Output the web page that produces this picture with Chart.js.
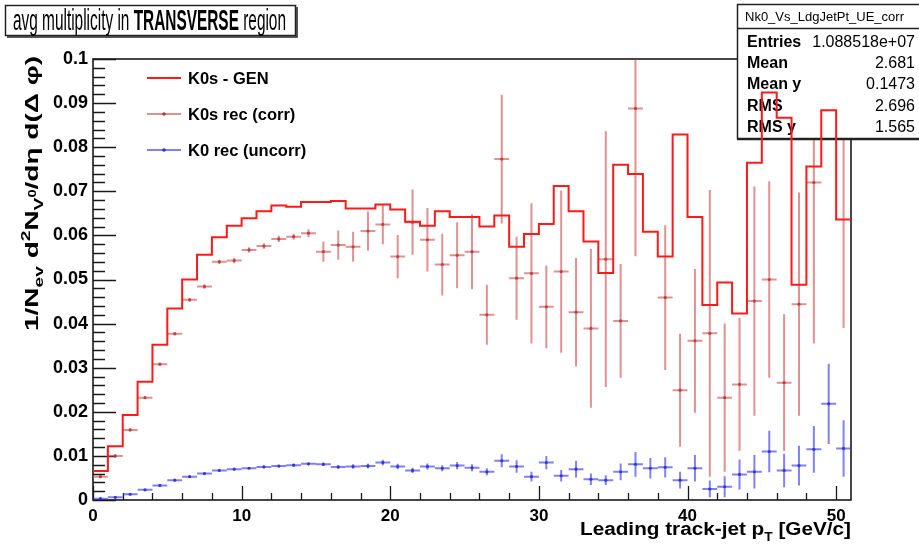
<!DOCTYPE html>
<html><head><meta charset="utf-8">
<script src="https://cdn.jsdelivr.net/npm/chart.js@4.4.1/dist/chart.umd.min.js"></script>
<style>html,body{margin:0;padding:0;background:#fff;overflow:hidden}#wrap{width:919px;height:549px;position:relative}</style>
</head><body><div id="wrap"><canvas id="c"></canvas></div>
<script>
// ---- data ----
const binLow = [0,1,2,3,4,5,6,7,8,9,10,11,12,13,14,15,16,17,18,19,20,21,22,23,24,25,26,27,28,29,30,31,32,33,34,35,36,37,38,39,40,41,42,43,44,45,46,47,48,49,50];
const binWidth = 1;
const genValues = [0.0066,0.0122,0.0193,0.0268,0.0352,0.0434,0.0500,0.0556,0.0596,0.0622,0.0639,0.0655,0.0668,0.0665,0.0676,0.0676,0.0678,0.0661,0.0661,0.0670,0.0659,0.0631,0.0622,0.0655,0.0642,0.0642,0.0620,0.0645,0.0574,0.0603,0.0626,0.0712,0.0655,0.0586,0.0515,0.0760,0.0739,0.0608,0.0552,0.0829,0.0642,0.0442,0.0493,0.0423,0.0765,0.0924,0.0867,0.0488,0.0756,0.0884,0.0636];
const recCorrValues = [0.0053,0.0100,0.0159,0.0232,0.0308,0.0377,0.0454,0.0484,0.0540,0.0543,0.0567,0.0576,0.0592,0.0597,0.0605,0.0563,0.0578,0.0574,0.0610,0.0625,0.0552,0.0630,0.0590,0.0534,0.0555,0.0563,0.0420,0.0773,0.0503,0.0514,0.0438,0.0518,0.0426,0.0389,0.0546,0.0406,0.0888,null,0.0459,0.0249,0.0361,0.0378,0.0232,0.0262,0.0451,0.0500,0.0266,0.0444,0.0720,null,0.0880];
const recCorrErrors = [0.0003,0.0003,0.0003,0.0003,0.0003,0.0004,0.0004,0.0005,0.0005,0.0006,0.0006,0.0006,0.0007,0.0007,0.0009,0.0023,0.0033,0.0034,0.0044,0.0045,0.0049,0.0074,0.0072,0.0070,0.0075,0.0085,0.0068,0.0146,0.0094,0.0159,0.0094,0.0184,0.0123,0.0180,0.0290,0.0129,0.0335,null,0.0164,0.0128,0.0163,0.0325,0.0168,0.0151,0.0260,0.0223,0.0155,0.0253,0.0365,null,0.0490];
const recUncorrValues = [0.0003,0.0006,0.0013,0.0023,0.0033,0.0045,0.0053,0.0060,0.0067,0.0070,0.0072,0.0075,0.0077,0.0079,0.0082,0.0081,0.0075,0.0076,0.0077,0.0085,0.0076,0.0067,0.0076,0.0072,0.0078,0.0073,0.0064,0.0089,0.0076,0.0053,0.0085,0.0055,0.0070,0.0047,0.0045,0.0064,0.0081,0.0072,0.0074,0.0045,0.0072,0.0025,0.0030,0.0058,0.0064,0.0110,0.0067,0.0078,0.0115,0.0218,0.0117];
const recUncorrErrors = [0.0001,0.0001,0.0001,0.0001,0.0001,0.0002,0.0002,0.0002,0.0002,0.0002,0.0002,0.0003,0.0003,0.0003,0.0003,0.0004,0.0004,0.0005,0.0005,0.0006,0.0006,0.0006,0.0007,0.0007,0.0008,0.0008,0.0008,0.0015,0.0014,0.0011,0.0015,0.0013,0.0019,0.0013,0.0011,0.0019,0.0028,0.0023,0.0023,0.0019,0.0030,0.0019,0.0024,0.0034,0.0038,0.0047,0.0038,0.0045,0.0053,0.0091,0.0064];
const xTickValues = [0,10,20,30,40,50];
const xTickLabels = ['0','10','20','30','40','50'];
const yTickValues = [0,0.01,0.02,0.03,0.04,0.05,0.06,0.07,0.08,0.09,0.1];
const yTickLabels = ['0','0.01','0.02','0.03','0.04','0.05','0.06','0.07','0.08','0.09','0.1'];
const legendLabels = ['K0s - GEN','K0s rec (corr)','K0 rec (uncorr)'];
const statsName = 'Nk0_Vs_LdgJetPt_UE_corr';
const statsLabels = ['Entries','Mean','Mean y','RMS','RMS y'];
const statsValues = ['1.088518e+07','2.681','0.1473','2.696','1.565'];
const titleParts = [['avg multiplicity in ',''],['TRANSVERSE','bold '],[' region','']];
const xTitle = 'Leading track-jet p';
const xTitleSub = 'T';
const xTitleEnd = ' [GeV/c]';

// ---- styles ----
const FONT = '"Liberation Sans", Arial, sans-serif';
const GEN_COLOR = '#ff1a1a';
const CORR_COLOR = 'rgba(200,55,55,0.55)';
const CORR_MARK = 'rgba(170,40,40,0.85)';
const UNC_COLOR = 'rgba(45,45,235,0.6)';
const UNC_MARK = 'rgba(40,40,200,0.9)';

const genPoints = binLow.map((x,i)=>({x:x, y:genValues[i]}));
genPoints.push({x: binLow[binLow.length-1]+binWidth, y: genValues[genValues.length-1]});
const corrPoints = binLow.map((x,i)=>({x:x+binWidth/2, y:recCorrValues[i]}));
const uncPoints = binLow.map((x,i)=>({x:x+binWidth/2, y:recUncorrValues[i]}));

const rootPlugin = {
  id:'rootStyle',
  beforeDatasetsDraw(chart){
    const {ctx, chartArea:a, scales:{x,y}} = chart;
    ctx.save();
    ctx.strokeStyle='#1a1a1a';
    ctx.lineWidth=1.6;
    ctx.strokeRect(a.left, a.top, a.right-a.left, a.bottom-a.top);
    ctx.lineWidth=1.3;
    ctx.beginPath();
    for(let k=0;k<=50;k++){
      const p=Math.round(y.getPixelForValue(k*0.002))+0.5;
      const len = (k%5===0)?23:12;
      ctx.moveTo(a.left,p); ctx.lineTo(a.left+len,p);
    }
    for(let k=0;k<=25;k++){
      const p=Math.round(x.getPixelForValue(k*2))+0.5;
      const len=(k%5===0)?14:7;
      ctx.moveTo(p,a.bottom); ctx.lineTo(p,a.bottom-len);
    }
    ctx.stroke();
    ctx.restore();
  },
  beforeDatasetDraw(chart,args){
    if(args.index!==0) return;
    const ctx=chart.ctx;
    ctx.save();
    ctx.fillStyle='#fff';
    ctx.fillRect(737,4,190,134);
    ctx.strokeStyle='#222'; ctx.lineWidth=1.5;
    ctx.strokeRect(737.5,4.5,190,134);
    ctx.beginPath(); ctx.moveTo(737,139.5); ctx.lineTo(919,139.5); ctx.stroke();
    ctx.beginPath(); ctx.moveTo(737,28.5); ctx.lineTo(919,28.5); ctx.stroke();
    ctx.fillStyle='#000';
    ctx.font='13px '+FONT; ctx.textBaseline='alphabetic'; ctx.textAlign='left';
    ctx.fillText(statsName,745,21);
    const base=[47,68,89,111,132];
    statsLabels.forEach((l,i)=>{
      ctx.font='bold 16px '+FONT; ctx.textAlign='left';
      ctx.fillText(l,747,base[i]);
      ctx.font='16px '+FONT; ctx.textAlign='right';
      ctx.fillText(statsValues[i],915,base[i]);
    });
    ctx.restore();
  },
  afterDatasetDraw(chart,args){
    const ds=chart.data.datasets[args.index];
    if(!ds.errs) return;
    const {ctx, chartArea:a, scales:{x,y}} = chart;
    ctx.save();
    ctx.beginPath(); ctx.rect(a.left,a.top,a.right-a.left,a.bottom-a.top); ctx.clip();
    ctx.strokeStyle=ds.errColor; ctx.lineWidth=2;
    ds.data.forEach((pt,i)=>{
      if(pt.y===null||ds.errs[i]===null) return;
      const px=x.getPixelForValue(pt.x), py=y.getPixelForValue(pt.y);
      const x0=x.getPixelForValue(pt.x-binWidth/2), x1=x.getPixelForValue(pt.x+binWidth/2);
      const y0=y.getPixelForValue(pt.y-ds.errs[i]), y1=y.getPixelForValue(pt.y+ds.errs[i]);
      ctx.beginPath();
      ctx.moveTo(x0,py); ctx.lineTo(x1,py);
      ctx.moveTo(px,y0); ctx.lineTo(px,y1);
      ctx.stroke();
    });
    ctx.restore();
  },
  afterDraw(chart){
    const ctx=chart.ctx;
    ctx.save();
    // title box
    ctx.strokeStyle='#222'; ctx.lineWidth=1.5;
    ctx.fillStyle='#fff';
    ctx.fillRect(5,5,291,31);
    ctx.strokeRect(5.5,5.5,290,30);
    ctx.beginPath(); ctx.moveTo(7,37); ctx.lineTo(297,37); ctx.lineTo(297,7); ctx.stroke();
    ctx.fillStyle='#000'; ctx.textBaseline='alphabetic'; ctx.textAlign='left';
    let total=0;
    titleParts.forEach(p=>{ctx.font=p[1]+'29px '+FONT; total+=ctx.measureText(p[0]).width;});
    const sc=273/total;
    ctx.save(); ctx.translate(13,30); ctx.scale(sc,1);
    let cx=0;
    titleParts.forEach(p=>{ctx.font=p[1]+'29px '+FONT; ctx.fillText(p[0],cx,0); cx+=ctx.measureText(p[0]).width;});
    ctx.restore();

    // legend
    const ly=[78,114,150];
    ctx.lineWidth=2;
    ctx.strokeStyle=GEN_COLOR; ctx.beginPath(); ctx.moveTo(147,ly[0]); ctx.lineTo(181,ly[0]); ctx.stroke();
    ctx.strokeStyle=CORR_COLOR; ctx.beginPath(); ctx.moveTo(147,ly[1]); ctx.lineTo(181,ly[1]); ctx.stroke();
    ctx.fillStyle=CORR_MARK; ctx.beginPath(); ctx.arc(164,ly[1],1.8,0,Math.PI*2); ctx.fill();
    ctx.strokeStyle=UNC_COLOR; ctx.beginPath(); ctx.moveTo(147,ly[2]); ctx.lineTo(181,ly[2]); ctx.stroke();
    ctx.fillStyle=UNC_MARK; ctx.beginPath(); ctx.arc(164,ly[2],1.8,0,Math.PI*2); ctx.fill();
    ctx.fillStyle='#000'; ctx.font='bold 16.5px '+FONT; ctx.textBaseline='middle';
    legendLabels.forEach((l,i)=>ctx.fillText(l,188,ly[i]+1));

    // x title
    ctx.textBaseline='alphabetic';
    ctx.font='bold 18px '+FONT;
    const w1=ctx.measureText(xTitle).width;
    ctx.font='bold 12px '+FONT;
    const w2=ctx.measureText(xTitleSub).width;
    ctx.font='bold 18px '+FONT;
    const w3=ctx.measureText(xTitleEnd).width;
    const xs=271/(w1+w2+w3);
    ctx.save(); ctx.translate(580,535); ctx.scale(xs,1);
    ctx.fillText(xTitle,0,0);
    ctx.font='bold 12px '+FONT; ctx.fillText(xTitleSub,w1,6);
    ctx.font='bold 18px '+FONT; ctx.fillText(xTitleEnd,w1+w2,0);
    ctx.restore();

    // y title
    const parts=[
      ['1/N',19,0],['ev',13,5],[' d',19,0],['2',13,-8],['N',19,0],['V',13,5],['0',10,-2],['/d',19,0],['η',19,0],[' d(Δ φ)',19,0]
    ];
    let tw=0;
    parts.forEach(p=>{ctx.font='bold '+p[1]+'px '+FONT; tw+=ctx.measureText(p[0]).width;});
    const ys=275/tw;
    ctx.save(); ctx.translate(38,331); ctx.rotate(-Math.PI/2); ctx.scale(ys,1);
    let px=0;
    parts.forEach(p=>{ctx.font='bold '+p[1]+'px '+FONT; ctx.fillText(p[0],px,p[2]); px+=ctx.measureText(p[0]).width;});
    ctx.restore();
    ctx.restore();
  }
};

new Chart(document.getElementById('c'),{
  type:'scatter',
  data:{datasets:[
    {type:'line', label:legendLabels[0], data:genPoints, stepped:'before', borderColor:GEN_COLOR, borderWidth:2, pointRadius:0, fill:false, order:0},
    {type:'scatter', label:legendLabels[1], data:corrPoints, pointRadius:1.6, pointBackgroundColor:CORR_MARK, pointBorderWidth:0, errs:recCorrErrors, errColor:CORR_COLOR, order:2},
    {type:'scatter', label:legendLabels[2], data:uncPoints, pointRadius:1.6, pointBackgroundColor:UNC_MARK, pointBorderWidth:0, errs:recUncorrErrors, errColor:UNC_COLOR, order:1}
  ]},
  options:{
    responsive:true, maintainAspectRatio:false, animation:false, devicePixelRatio:1, events:[],
    layout:{padding:{left:0,top:59,right:68,bottom:0}},
    plugins:{legend:{display:false}, tooltip:{enabled:false}},
    scales:{
      x:{type:'linear', min:0, max:51,
        grid:{display:false, drawTicks:false}, border:{display:false},
        afterBuildTicks:s=>{s.ticks=xTickValues.map(v=>({value:v}));},
        afterFit:s=>{s.height=49;},
        ticks:{padding:6, color:'#000', font:{family:'Liberation Sans', weight:'bold', size:17}, maxRotation:0,
          callback:(v)=>{const i=xTickValues.indexOf(v); return i>=0?xTickLabels[i]:'';}}
      },
      y:{type:'linear', min:0, max:0.1,
        grid:{display:false, drawTicks:false}, border:{display:false},
        afterBuildTicks:s=>{s.ticks=yTickValues.map(v=>({value:v}));},
        afterFit:s=>{s.width=93;},
        ticks:{padding:5, color:'#000', font:{family:'Liberation Sans', weight:'bold', size:18},
          callback:(v)=>{const i=yTickValues.findIndex(t=>Math.abs(t-v)<1e-9); return i>=0?yTickLabels[i]:'';}}
      }
    }
  },
  plugins:[rootPlugin]
});
</script></body></html>
